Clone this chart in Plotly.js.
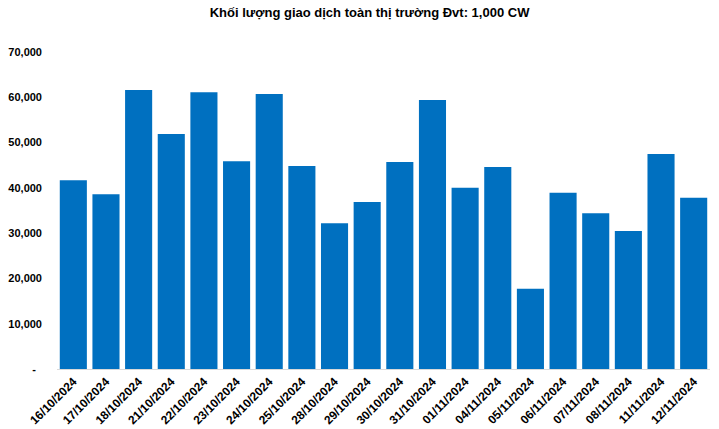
<!DOCTYPE html>
<html><head><meta charset="utf-8">
<script src="https://cdn.plot.ly/plotly-3.0.1.min.js"></script>
<style>html,body{margin:0;padding:0;background:#fff}#c{width:719px;height:429px}</style>
</head><body><div id="c"></div>
<script>
const dates = ["16/10/2024","17/10/2024","18/10/2024","21/10/2024","22/10/2024","23/10/2024","24/10/2024","25/10/2024","28/10/2024","29/10/2024","30/10/2024","31/10/2024","01/11/2024","04/11/2024","05/11/2024","06/11/2024","07/11/2024","08/11/2024","11/11/2024","12/11/2024"];
const volumes = [41700,38600,61600,51900,61100,45900,60700,44800,32200,36900,45700,59400,40000,44600,17700,38900,34400,30500,47500,37800];
const yTickVals = [0,10000,20000,30000,40000,50000,60000,70000];
const yTickText = ["-\u00a0\u00a0","10,000","20,000","30,000","40,000","50,000","60,000","70,000"];

const font = "Liberation Sans, Arial, sans-serif";
Plotly.newPlot("c", [{
  type: "bar", x: dates, y: volumes,
  marker: {color: "#0070C0"},
  hoverinfo: "x+y"
}], {
  width: 719, height: 429,
  margin: {l: 57, r: 9, t: 52, b: 60},
  paper_bgcolor: "#fff", plot_bgcolor: "#fff",
  bargap: 0.17,
  showlegend: false,
  title: {text: "<b>Khối lượng giao dịch toàn thị trường Đvt: 1,000 CW</b>",
          font: {family: font, size: 13, color: "#000"},
          x: 0.514, xref: "container", xanchor: "center", y: 0.972, yref: "container", yanchor: "middle"},
  xaxis: {type: "category", tickangle: -45, showgrid: false, zeroline: false,
          showline: true, linecolor: "#d9d9d9", linewidth: 1, ticks: "",
          tickfont: {family: font, size: 12, color: "#000", weight: "bold"}},
  yaxis: {range: [0, 70000], tickvals: yTickVals, ticktext: yTickText,
          showgrid: false, zeroline: false, showline: false, ticks: "",
          ticklabelstandoff: 14,
          tickfont: {family: font, size: 11, color: "#000", weight: "bold"}}
}, {displayModeBar: false, staticPlot: true});
</script></body></html>
